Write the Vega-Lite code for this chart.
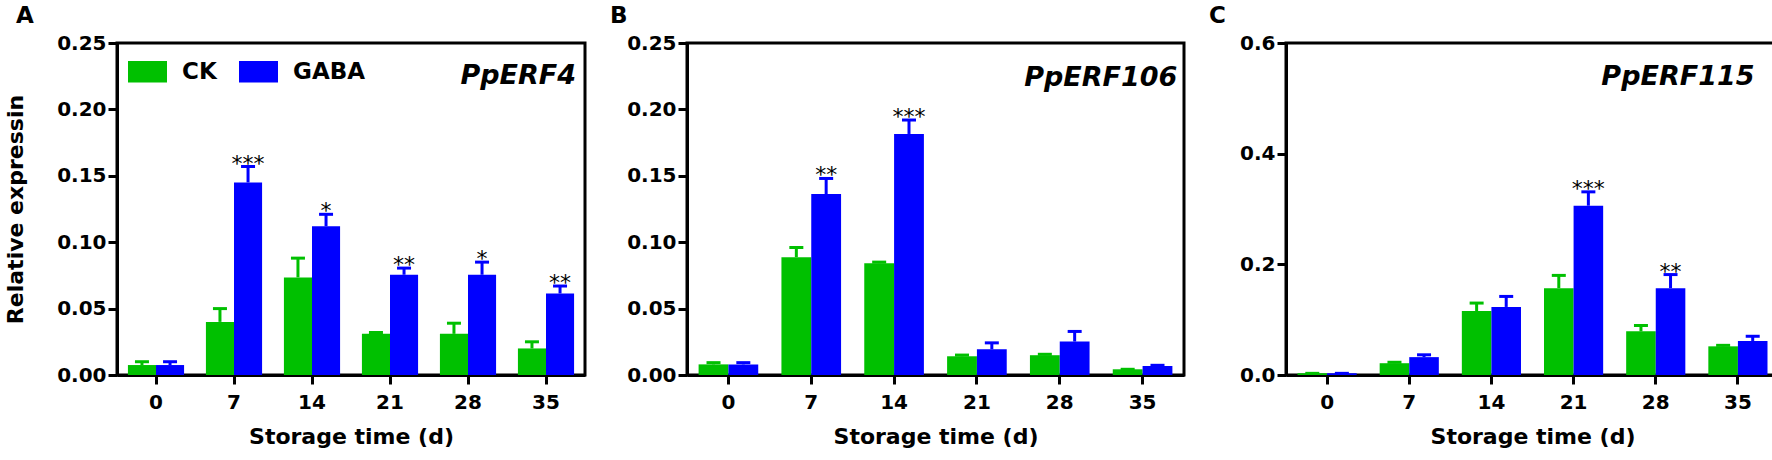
{
  "$schema": "https://vega.github.io/schema/vega-lite/v6.json",
  "background": "white",
  "padding": {"left": 3, "top": 3, "right": 2, "bottom": 2},
  "config": {
    "font": "DejaVu Sans",
    "view": {"stroke": "black", "strokeWidth": 3},
    "axis": {
      "labelFont": "DejaVu Sans", "labelFontWeight": "bold", "labelFontSize": 20, "labelColor": "black",
      "titleFont": "DejaVu Sans", "titleFontWeight": "bold", "titleFontSize": 22, "titleColor": "black",
      "domainColor": "black", "domainWidth": 3, "tickColor": "black", "tickWidth": 3, "tickSize": 9, "grid": false
    },
    "axisX": {"labelAngle": 0, "labelPadding": 8, "titlePadding": 14},
    "axisY": {"labelPadding": 2, "titlePadding": 29},
    "title": {"font": "DejaVu Sans", "fontSize": 23, "fontWeight": "bold", "color": "black", "anchor": "start", "frame": "group", "offset": 5}
  },
  "datasets": {
    "erf4": [
      {"day": "0", "group": "CK", "mean": 0.0075, "hi": 0.010, "sig": ""},
      {"day": "0", "group": "GABA", "mean": 0.0075, "hi": 0.010, "sig": ""},
      {"day": "7", "group": "CK", "mean": 0.040, "hi": 0.050, "sig": ""},
      {"day": "7", "group": "GABA", "mean": 0.145, "hi": 0.157, "sig": "***"},
      {"day": "14", "group": "CK", "mean": 0.0735, "hi": 0.088, "sig": ""},
      {"day": "14", "group": "GABA", "mean": 0.112, "hi": 0.121, "sig": "*"},
      {"day": "21", "group": "CK", "mean": 0.031, "hi": 0.032, "sig": ""},
      {"day": "21", "group": "GABA", "mean": 0.0755, "hi": 0.0805, "sig": "**"},
      {"day": "28", "group": "CK", "mean": 0.031, "hi": 0.039, "sig": ""},
      {"day": "28", "group": "GABA", "mean": 0.0755, "hi": 0.085, "sig": "*"},
      {"day": "35", "group": "CK", "mean": 0.020, "hi": 0.025, "sig": ""},
      {"day": "35", "group": "GABA", "mean": 0.0614, "hi": 0.067, "sig": "**"}
    ],
    "erf106": [
      {"day": "0", "group": "CK", "mean": 0.008, "hi": 0.0093, "sig": ""},
      {"day": "0", "group": "GABA", "mean": 0.008, "hi": 0.0093, "sig": ""},
      {"day": "7", "group": "CK", "mean": 0.0887, "hi": 0.096, "sig": ""},
      {"day": "7", "group": "GABA", "mean": 0.1363, "hi": 0.148, "sig": "**"},
      {"day": "14", "group": "CK", "mean": 0.0842, "hi": 0.085, "sig": ""},
      {"day": "14", "group": "GABA", "mean": 0.1815, "hi": 0.192, "sig": "***"},
      {"day": "21", "group": "CK", "mean": 0.0141, "hi": 0.015, "sig": ""},
      {"day": "21", "group": "GABA", "mean": 0.0194, "hi": 0.0242, "sig": ""},
      {"day": "28", "group": "CK", "mean": 0.0149, "hi": 0.0156, "sig": ""},
      {"day": "28", "group": "GABA", "mean": 0.0252, "hi": 0.0328, "sig": ""},
      {"day": "35", "group": "CK", "mean": 0.0043, "hi": 0.0043, "sig": ""},
      {"day": "35", "group": "GABA", "mean": 0.0068, "hi": 0.0073, "sig": ""}
    ],
    "erf115": [
      {"day": "0", "group": "CK", "mean": 0.003, "hi": 0.003, "sig": ""},
      {"day": "0", "group": "GABA", "mean": 0.003, "hi": 0.003, "sig": ""},
      {"day": "7", "group": "CK", "mean": 0.0213, "hi": 0.023, "sig": ""},
      {"day": "7", "group": "GABA", "mean": 0.0323, "hi": 0.0365, "sig": ""},
      {"day": "14", "group": "CK", "mean": 0.1157, "hi": 0.130, "sig": ""},
      {"day": "14", "group": "GABA", "mean": 0.123, "hi": 0.142, "sig": ""},
      {"day": "21", "group": "CK", "mean": 0.157, "hi": 0.180, "sig": ""},
      {"day": "21", "group": "GABA", "mean": 0.306, "hi": 0.331, "sig": "***"},
      {"day": "28", "group": "CK", "mean": 0.079, "hi": 0.0895, "sig": ""},
      {"day": "28", "group": "GABA", "mean": 0.157, "hi": 0.1815, "sig": "**"},
      {"day": "35", "group": "CK", "mean": 0.0518, "hi": 0.0536, "sig": ""},
      {"day": "35", "group": "GABA", "mean": 0.0615, "hi": 0.070, "sig": ""}
    ]
  },
  "spacing": 102,
  "bounds": "flush",
  "resolve": {
    "scale": {"x": "independent", "y": "independent", "color": "independent", "xOffset": "independent"},
    "legend": {"color": "independent"}
  },
  "hconcat": [
    {
      "width": 468,
      "height": 332,
      "title": {"text": "A", "dx": -101},
      "data": {"name": "erf4"},
      "encoding": {
        "x": {"field": "day", "type": "ordinal", "sort": ["0", "7", "14", "21", "28", "35"], "title": "Storage time (d)", "scale": {"paddingInner": 0.28, "paddingOuter": 0.14}}
      },
      "layer": [
        {
          "mark": {"type": "bar", "opacity": 1},
          "encoding": {
            "xOffset": {"field": "group", "sort": ["CK", "GABA"]},
            "y": {"field": "mean", "type": "quantitative", "stack": null, "title": "Relative expressin", "scale": {"domain": [0, 0.25], "nice": false}, "axis": {"values": [0, 0.05, 0.1, 0.15, 0.2, 0.25], "format": ".2f"}},
            "color": {
              "field": "group", "type": "nominal",
              "scale": {"domain": ["CK", "GABA"], "range": ["#00c000", "#0000ff"]},
              "legend": {
                "orient": "none", "legendX": 11, "legendY": 9, "direction": "horizontal", "columns": 2, "title": null,
                "symbolType": "M-1,-0.55H1V0.55H-1Z", "symbolSize": 1521, "symbolStrokeWidth": 0, "symbolOpacity": 1,
                "labelFont": "DejaVu Sans", "labelFontSize": 23, "labelFontWeight": "bold", "labelColor": "black",
                "labelOffset": 15, "columnPadding": 22, "padding": 0
              }
            }
          }
        },
        {
          "mark": {"type": "rule", "strokeWidth": 3},
          "encoding": {
            "xOffset": {"field": "group", "sort": ["CK", "GABA"]},
            "y": {"field": "mean", "type": "quantitative", "title": "Relative expressin"},
            "y2": {"field": "hi"},
            "color": {"field": "group", "type": "nominal"}
          }
        },
        {
          "mark": {"type": "tick", "thickness": 3, "size": 14, "opacity": 1},
          "encoding": {
            "xOffset": {"field": "group", "sort": ["CK", "GABA"]},
            "y": {"field": "hi", "type": "quantitative", "title": "Relative expressin"},
            "color": {"field": "group", "type": "nominal"}
          }
        },
        {
          "transform": [{"filter": "datum.sig != ''"}],
          "mark": {"type": "text", "fontSize": 22, "baseline": "alphabetic", "dy": 4, "color": "black"},
          "encoding": {
            "xOffset": {"field": "group", "sort": ["CK", "GABA"]},
            "y": {"field": "hi", "type": "quantitative", "title": "Relative expressin"},
            "text": {"field": "sig"}
          }
        },
        {
          "data": {"values": [{"gene": "PpERF4"}]},
          "mark": {"type": "text", "align": "right", "baseline": "middle", "fontSize": 27, "fontStyle": "italic", "fontWeight": "bold", "color": "black", "dx": 2},
          "encoding": {
            "x": {"datum": "35", "bandPosition": 1},
            "y": {"datum": 0.225},
            "text": {"field": "gene"}
          }
        }
      ]
    },
    {
      "width": 497,
      "height": 332,
      "title": {"text": "B", "dx": -77},
      "data": {"name": "erf106"},
      "encoding": {
        "x": {"field": "day", "type": "ordinal", "sort": ["0", "7", "14", "21", "28", "35"], "title": "Storage time (d)", "scale": {"paddingInner": 0.28, "paddingOuter": 0.14}}
      },
      "layer": [
        {
          "mark": {"type": "bar", "opacity": 1},
          "encoding": {
            "xOffset": {"field": "group", "sort": ["CK", "GABA"]},
            "y": {"field": "mean", "type": "quantitative", "stack": null, "title": null, "scale": {"domain": [0, 0.25], "nice": false}, "axis": {"values": [0, 0.05, 0.1, 0.15, 0.2, 0.25], "format": ".2f"}},
            "color": {"field": "group", "type": "nominal", "scale": {"domain": ["CK", "GABA"], "range": ["#00c000", "#0000ff"]}, "legend": null}
          }
        },
        {
          "mark": {"type": "rule", "strokeWidth": 3},
          "encoding": {
            "xOffset": {"field": "group", "sort": ["CK", "GABA"]},
            "y": {"field": "mean", "type": "quantitative", "title": null},
            "y2": {"field": "hi"},
            "color": {"field": "group", "type": "nominal", "legend": null}
          }
        },
        {
          "mark": {"type": "tick", "thickness": 3, "size": 14, "opacity": 1},
          "encoding": {
            "xOffset": {"field": "group", "sort": ["CK", "GABA"]},
            "y": {"field": "hi", "type": "quantitative", "title": null},
            "color": {"field": "group", "type": "nominal", "legend": null}
          }
        },
        {
          "transform": [{"filter": "datum.sig != ''"}],
          "mark": {"type": "text", "fontSize": 22, "baseline": "alphabetic", "dy": 4, "color": "black"},
          "encoding": {
            "xOffset": {"field": "group", "sort": ["CK", "GABA"]},
            "y": {"field": "hi", "type": "quantitative", "title": null},
            "text": {"field": "sig"}
          }
        },
        {
          "data": {"values": [{"gene": "PpERF106"}]},
          "mark": {"type": "text", "align": "right", "baseline": "middle", "fontSize": 27, "fontStyle": "italic", "fontWeight": "bold", "color": "black", "dx": 5},
          "encoding": {
            "x": {"datum": "35", "bandPosition": 1},
            "y": {"datum": 0.2236},
            "text": {"field": "gene"}
          }
        }
      ]
    },
    {
      "width": 493,
      "height": 332,
      "title": {"text": "C", "dx": -77},
      "data": {"name": "erf115"},
      "encoding": {
        "x": {"field": "day", "type": "ordinal", "sort": ["0", "7", "14", "21", "28", "35"], "title": "Storage time (d)", "scale": {"paddingInner": 0.28, "paddingOuter": 0.14}}
      },
      "layer": [
        {
          "mark": {"type": "bar", "opacity": 1},
          "encoding": {
            "xOffset": {"field": "group", "sort": ["CK", "GABA"]},
            "y": {"field": "mean", "type": "quantitative", "stack": null, "title": null, "scale": {"domain": [0, 0.6], "nice": false}, "axis": {"values": [0, 0.2, 0.4, 0.6], "format": ".1f"}},
            "color": {"field": "group", "type": "nominal", "scale": {"domain": ["CK", "GABA"], "range": ["#00c000", "#0000ff"]}, "legend": null}
          }
        },
        {
          "mark": {"type": "rule", "strokeWidth": 3},
          "encoding": {
            "xOffset": {"field": "group", "sort": ["CK", "GABA"]},
            "y": {"field": "mean", "type": "quantitative", "title": null},
            "y2": {"field": "hi"},
            "color": {"field": "group", "type": "nominal", "legend": null}
          }
        },
        {
          "mark": {"type": "tick", "thickness": 3, "size": 14, "opacity": 1},
          "encoding": {
            "xOffset": {"field": "group", "sort": ["CK", "GABA"]},
            "y": {"field": "hi", "type": "quantitative", "title": null},
            "color": {"field": "group", "type": "nominal", "legend": null}
          }
        },
        {
          "transform": [{"filter": "datum.sig != ''"}],
          "mark": {"type": "text", "fontSize": 22, "baseline": "alphabetic", "dy": 4, "color": "black"},
          "encoding": {
            "xOffset": {"field": "group", "sort": ["CK", "GABA"]},
            "y": {"field": "hi", "type": "quantitative", "title": null},
            "text": {"field": "sig"}
          }
        },
        {
          "data": {"values": [{"gene": "PpERF115"}]},
          "mark": {"type": "text", "align": "right", "baseline": "middle", "fontSize": 27, "fontStyle": "italic", "fontWeight": "bold", "color": "black", "dx": -13},
          "encoding": {
            "x": {"datum": "35", "bandPosition": 1},
            "y": {"datum": 0.538},
            "text": {"field": "gene"}
          }
        }
      ]
    }
  ]
}
